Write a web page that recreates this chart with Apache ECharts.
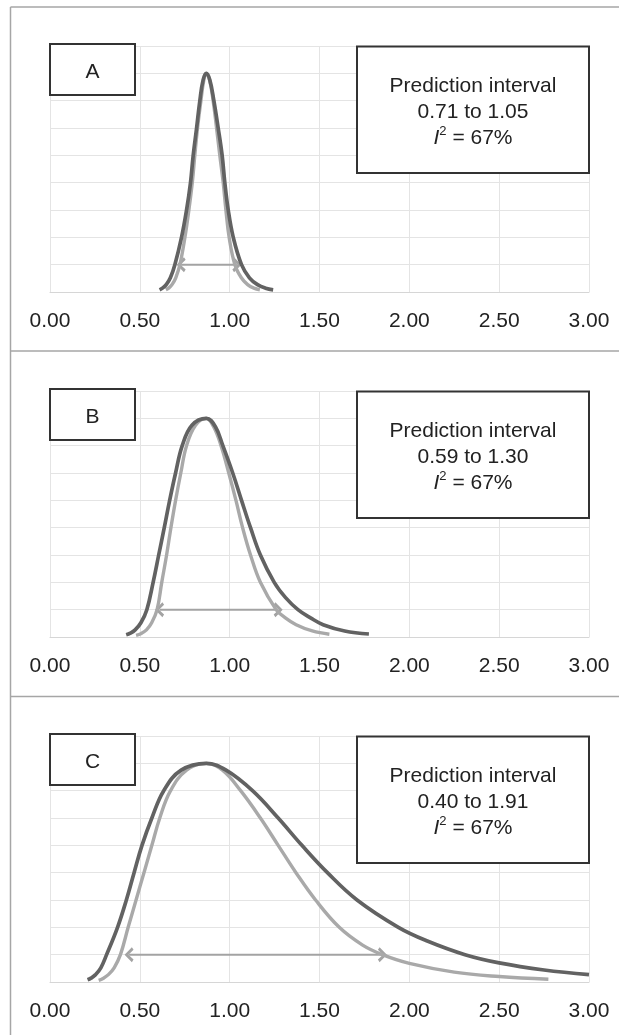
<!DOCTYPE html>
<html>
<head>
<meta charset="UTF-8">
<title>Prediction interval</title>
<script src="https://cdn.jsdelivr.net/npm/echarts@6.0.0/dist/echarts.min.js"></script>
<style>
html, body { margin: 0; padding: 0; background: #fff; }
#main { width: 619px; height: 1035px; }
</style>
</head>
<body>
<div id="main"></div>
<script>
// panel labels and box text
var panelNames = ['A', 'B', 'C'];
var intervalTexts = ['0.71 to 1.05', '0.59 to 1.30', '0.40 to 1.91'];
var i2Value = '67%';

// x axis ticks
var xMin = 0, xMax = 3, xStep = 0.5;

// curves: [x, height in gridline units]
var lightA = [[0.645,0.08],[0.662,0.15],[0.68,0.28],[0.70,0.52],[0.723,1],[0.751,2],[0.773,3],[0.792,4],[0.806,5],[0.821,6],[0.840,7],[0.856,7.75],[0.87,8],[0.888,7.75],[0.908,7],[0.927,6],[0.945,5],[0.964,4],[0.979,3],[0.997,2],[1.029,1],[1.065,0.52],[1.10,0.27],[1.135,0.14],[1.168,0.08]];
var darkA = [[0.61,0.08],[0.628,0.15],[0.648,0.28],[0.67,0.52],[0.695,1],[0.732,2],[0.760,3],[0.782,4],[0.797,5],[0.816,6],[0.834,7],[0.852,7.75],[0.87,8],[0.89,7.75],[0.912,7],[0.936,6],[0.958,5],[0.973,4],[0.992,3],[1.02,2],[1.066,1],[1.11,0.52],[1.155,0.27],[1.2,0.14],[1.242,0.08]];

var lightB = [[0.479,0.06],[0.508,0.13],[0.537,0.26],[0.566,0.52],[0.596,1],[0.622,2],[0.649,3],[0.673,4],[0.699,5],[0.728,6],[0.760,7],[0.81,7.75],[0.87,8],[0.91,7.7],[0.952,7],[0.995,6],[1.035,5],[1.072,4],[1.116,3],[1.171,2],[1.259,1],[1.31,0.7],[1.37,0.45],[1.46,0.22],[1.555,0.1]];
var darkB = [[0.424,0.08],[0.447,0.14],[0.474,0.26],[0.506,0.52],[0.539,1],[0.574,2],[0.605,3],[0.636,4],[0.666,5],[0.699,6],[0.736,7],[0.79,7.75],[0.87,8],[0.92,7.7],[0.962,7],[1.017,6],[1.066,5],[1.116,4],[1.171,3],[1.248,2],[1.31,1.45],[1.38,1],[1.45,0.7],[1.52,0.45],[1.64,0.22],[1.775,0.11]];

var lightC = [[0.271,0.06],[0.295,0.13],[0.325,0.27],[0.357,0.52],[0.392,1],[0.435,2],[0.479,3],[0.523,4],[0.567,5],[0.611,6],[0.671,7],[0.76,7.75],[0.87,8],[0.96,7.75],[1.061,7],[1.171,6],[1.270,5],[1.369,4],[1.478,3],[1.61,2],[1.74,1.35],[1.85,1],[2.0,0.68],[2.25,0.36],[2.5,0.2],[2.774,0.1]];
var darkC = [[0.209,0.08],[0.228,0.14],[0.252,0.26],[0.283,0.52],[0.315,1],[0.376,2],[0.425,3],[0.468,4],[0.512,5],[0.567,6],[0.633,7],[0.73,7.75],[0.87,8],[0.98,7.75],[1.127,7],[1.270,6],[1.402,5],[1.544,4],[1.709,3],[1.939,2],[2.1,1.5],[2.31,1],[2.5,0.7],[2.75,0.44],[3.0,0.27]];

// double arrows under the curves
var arrowA = [0.73, 1.04];
var arrowB = [0.61, 1.27];
var arrowC = [0.44, 1.85];
var arrowLevel = 1;

var lights = [lightA, lightB, lightC];
var darks = [darkA, darkB, darkC];
var arrows = [arrowA, arrowB, arrowC];

var font = '"Liberation Sans", Arial, Helvetica, sans-serif';
var gridTops = [46, 391, 736];
var gridLeft = 50, gridWidth = 539, gridHeight = 246;
// open arrow head, tip pointing up
var chevron = 'path://M5,0 L10,6 L8.3,7.4 L5,3.2 L1.7,7.4 L0,6 Z';

var myChart = echarts.init(document.getElementById('main'));

var grids = [], xAxes = [], yAxes = [], series = [], graphics = [];

// outer frame and dividers
var frameColor = '#a6a6a6';
graphics.push({ type: 'line', shape: { x1: 10.5, y1: 7, x2: 10.5, y2: 1035 }, style: { stroke: frameColor, lineWidth: 1.5 } });
graphics.push({ type: 'line', shape: { x1: 10.5, y1: 7, x2: 619, y2: 7 }, style: { stroke: frameColor, lineWidth: 1.5 } });
graphics.push({ type: 'line', shape: { x1: 10.5, y1: 351, x2: 619, y2: 351 }, style: { stroke: frameColor, lineWidth: 1.5 } });
graphics.push({ type: 'line', shape: { x1: 10.5, y1: 696.5, x2: 619, y2: 696.5 }, style: { stroke: frameColor, lineWidth: 1.5 } });

for (var i = 0; i < 3; i++) {
	var panelTop = gridTops[i];

	grids.push({ left: gridLeft, top: panelTop, width: gridWidth, height: gridHeight });

	xAxes.push({
		type: 'value', gridIndex: i, min: xMin, max: xMax, interval: xStep,
		axisLine: { lineStyle: { color: '#d6d6d6', width: 1 } },
		axisTick: { show: false },
		axisLabel: {
			margin: 19, fontSize: 21, color: '#222', fontFamily: font,
			formatter: function (v) { return v.toFixed(2); }
		},
		splitLine: { lineStyle: { color: '#e4e4e4', width: 1 } }
	});

	yAxes.push({
		type: 'value', gridIndex: i, min: 0, max: 9, interval: 1,
		axisLabel: { show: false },
		axisLine: { show: false },
		axisTick: { show: false },
		splitLine: { lineStyle: { color: '#e4e4e4', width: 1 } }
	});

	// interval arrow
	series.push({
		type: 'line', xAxisIndex: i, yAxisIndex: i,
		data: [
			{ value: [arrows[i][0], arrowLevel], symbolRotate: 90 },
			{ value: [arrows[i][1], arrowLevel], symbolRotate: -90 }
		],
		symbol: chevron, symbolSize: [15, 9], showSymbol: true,
		itemStyle: { color: '#a3a3a3' },
		lineStyle: { color: '#a3a3a3', width: 2 },
		silent: true,
		z: 2
	});

	// light curve
	series.push({
		type: 'line', xAxisIndex: i, yAxisIndex: i,
		data: lights[i], symbol: 'none', smooth: 0.4,
		lineStyle: { color: '#a9a9a9', width: 3.4 },
		z: 3
	});

	// dark curve on top
	series.push({
		type: 'line', xAxisIndex: i, yAxisIndex: i,
		data: darks[i], symbol: 'none', smooth: 0.4,
		lineStyle: { color: '#626262', width: 3.7 },
		z: 4
	});

	// panel letter box
	graphics.push({
		type: 'rect', z: 100,
		shape: { x: 50, y: panelTop - 2, width: 85, height: 51 },
		style: { fill: '#fff', stroke: '#333', lineWidth: 2 }
	});
	graphics.push({
		type: 'text', z: 101, x: 92.5, y: panelTop + 26,
		style: { text: panelNames[i], font: '21px ' + font, fill: '#222', align: 'center', verticalAlign: 'middle' }
	});

	// prediction interval box
	graphics.push({
		type: 'rect', z: 100,
		shape: { x: 357, y: panelTop + 0.5, width: 232, height: 126.5 },
		style: { fill: '#fff', stroke: '#333', lineWidth: 2 }
	});
	graphics.push({
		type: 'text', z: 101, x: 473, y: panelTop + 27,
		style: {
			text: 'Prediction interval\n' + intervalTexts[i] + '\n{it|I}{sup|2} = ' + i2Value,
			font: '21px ' + font, fill: '#222', align: 'center', verticalAlign: 'top',
			lineHeight: 26,
			rich: {
				it: { fontStyle: 'italic', fontSize: 21, fontFamily: font, lineHeight: 26 },
				sup: { fontSize: 13, fontFamily: font, lineHeight: 18, verticalAlign: 'top' }
			}
		}
	});
}

var option = {
	animation: false,
	backgroundColor: '#fff',
	grid: grids,
	xAxis: xAxes,
	yAxis: yAxes,
	series: series,
	graphic: graphics
};

myChart.setOption(option);
</script>
</body>
</html>
